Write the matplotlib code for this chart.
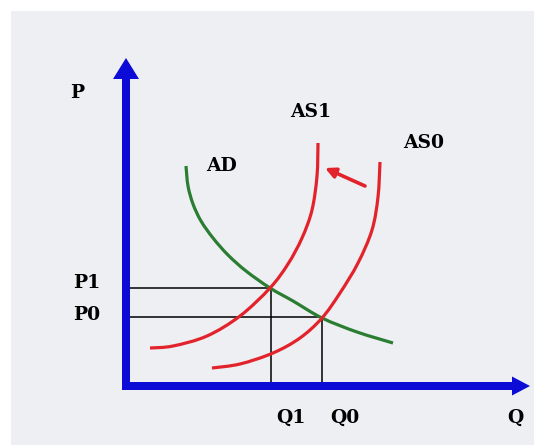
import matplotlib.pyplot as plt
from matplotlib.patches import FancyArrow, PathPatch
from matplotlib.path import Path

# curves (Q to the right, P up, origin at the axis corner)
ad_q = [60, 62, 67, 75, 87, 102, 120, 144, 167, 196, 231, 267]
ad_p = [220, 200, 182, 165, 148, 131, 115, 98, 85, 68, 54, 43]

as1_q = [24, 47, 81, 114, 144, 162, 176, 186, 191, 192]
as1_p = [38, 40, 50, 70, 98, 122, 148, 176, 210, 243]

as0_q = [86, 114, 147, 174, 196, 214, 232, 246, 252, 254]
as0_p = [18, 22, 33, 48, 68, 93, 123, 156, 189, 224]

# equilibria
q1, p1 = 145, 98
q0, p0 = 196, 69

# shift arrow, AS0 -> AS1
shift_from = (239, 200)
shift_to = (199, 218)

q_axis_end = 404
p_axis_end = 328

labels = {"P": (-49, 293), "AS1": (185, 274), "AS0": (298, 243), "AD": (96, 220),
          "P1": (-39, 103), "P0": (-39, 71), "Q1": (165, -32), "Q0": (219, -32),
          "Q": (389, -32)}

red = "#e3232b"
green = "#2b7d32"
blue = "#0c0cd6"


def smooth(xs, ys):
    # catmull-rom through the read points, drawn as bezier segments
    pts = list(zip(xs, ys))
    verts = [pts[0]]
    codes = [Path.MOVETO]
    for i in range(len(pts) - 1):
        p0 = pts[i - 1] if i > 0 else pts[i]
        a, b = pts[i], pts[i + 1]
        p3 = pts[i + 2] if i + 2 < len(pts) else b
        c1 = (a[0] + (b[0] - p0[0]) / 6, a[1] + (b[1] - p0[1]) / 6)
        c2 = (b[0] - (p3[0] - a[0]) / 6, b[1] - (p3[1] - a[1]) / 6)
        verts += [c1, c2, b]
        codes += [Path.CURVE4] * 3
    return Path(verts, codes)


def curve(ax, xs, ys, color):
    ax.add_patch(PathPatch(smooth(xs, ys), fill=False, edgecolor=color, lw=2.3,
                           capstyle="butt", zorder=3))


fig = plt.figure(figsize=(5.34, 4.45), dpi=100)
fig.patch.set_facecolor("white")
ax = fig.add_axes([11/534, 0, 523/534, 434/445])
ax.set_facecolor("#edeff2")
ax.set_xlim(-115, 408)
ax.set_ylim(-59, 375)
for s in ax.spines.values():
    s.set_visible(False)
ax.set_xticks([])
ax.set_yticks([])

# guide lines
ax.plot([0, q1, q1], [p1, p1, 0], color="black", lw=1.1, zorder=2)
ax.plot([0, q0, q0], [p0, p0, 0], color="black", lw=1.1, zorder=2)

curve(ax, ad_q, ad_p, green)
curve(ax, as1_q, as1_p, red)
curve(ax, as0_q, as0_p, red)

ax.annotate("", xy=shift_to, xytext=shift_from,
            arrowprops=dict(arrowstyle="-|>", color=red, lw=2.6, mutation_scale=15,
                            shrinkA=0, shrinkB=0), zorder=4)

# axes
ax.add_patch(FancyArrow(0, -4, 0, p_axis_end + 4, width=8, head_width=26, head_length=21,
                        length_includes_head=True, color=blue, lw=0, zorder=5))
ax.add_patch(FancyArrow(-4, 0, q_axis_end + 4, 0, width=8, head_width=19, head_length=18,
                        length_includes_head=True, color=blue, lw=0, zorder=5))

for txt, (x, y) in labels.items():
    ax.text(x, y, txt, ha="center", va="center", fontsize=13.5, fontweight="bold",
            family="DejaVu Serif", color="black", zorder=6)

fig.savefig("out.png", dpi=100)
